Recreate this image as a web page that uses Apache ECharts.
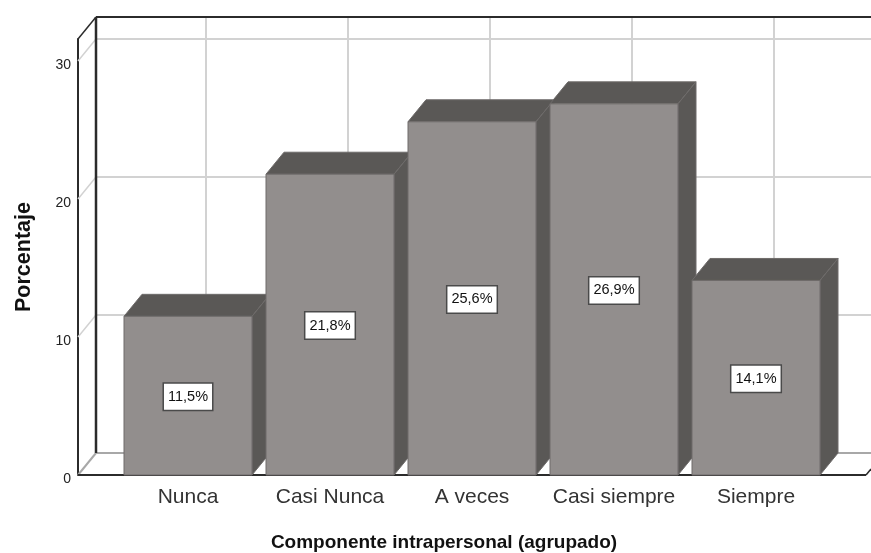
<!DOCTYPE html>
<html>
<head>
<meta charset="utf-8">
<style>html,body{margin:0;padding:0;background:#fff}#c{width:871px;height:553px}</style>
<script src="https://cdn.jsdelivr.net/npm/echarts@6/dist/echarts.min.js"></script>
</head>
<body>
<div id="c"></div>
<script>
const categories = ['Nunca', 'Casi Nunca', 'A veces', 'Casi siempre', 'Siempre'];
const percentages = [11.5, 21.8, 25.6, 26.9, 14.1];
const yTicks = [0, 10, 20, 30];
const yMax = 31.6;

// Oblique projection used for the pseudo-3D box
const DEPTH_X = 18;
const DEPTH_Y = 22;
const GRID = { left: 117, right: 44, top: 39, bottom: 78 };
const BAND_FILL = 128 / 142;
const AXIS_OFFSET = 39;
const FRONT_RIGHT = 866;
const CANVAS_RIGHT = 871;

const COL_FRONT = '#928e8d', COL_SHADE = '#5a5856', COL_EDGE = '#6e6b6a';
const COL_GRID = '#d2d2d2', COL_FRAME = '#2b2b2b', COL_FLOOR = '#a8a8a8';
const FONT = '"Liberation Sans", Arial, sans-serif';

function seg(x1, y1, x2, y2, stroke, lineWidth) {
  return { type: 'line', shape: { x1, y1, x2, y2 }, style: { stroke, lineWidth, fill: null }, silent: true };
}

// Back wall, side wall and floor of the box, behind the bars
function renderWalls(params, api) {
  const x0 = GRID.left - AXIS_OFFSET;
  const backX = x0 + DEPTH_X;
  const yBase = api.coord([0, 0])[1];
  const yTop = api.coord([0, yMax])[1];
  const children = [];
  categories.forEach((c, i) => {
    const x = api.coord([i, 0])[0] + DEPTH_X;
    children.push(seg(x, yTop - DEPTH_Y, x, yBase - DEPTH_Y, COL_GRID, 2));
  });
  yTicks.forEach(v => {
    const y = api.coord([0, v])[1];
    if (v > 0) {
      children.push(seg(backX, y - DEPTH_Y, CANVAS_RIGHT, y - DEPTH_Y, COL_GRID, 2));
      children.push(seg(x0, y, backX, y - DEPTH_Y, COL_GRID, 1.5));
    }
  });
  children.push(seg(backX, yBase - DEPTH_Y, CANVAS_RIGHT, yBase - DEPTH_Y, COL_FLOOR, 2));
  children.push(seg(x0, yBase, backX, yBase - DEPTH_Y, COL_FLOOR, 2));
  children.push(seg(backX, yTop - DEPTH_Y, backX, yBase - DEPTH_Y, COL_FRAME, 2.5));
  children.push(seg(backX, yTop - DEPTH_Y, CANVAS_RIGHT, yTop - DEPTH_Y, COL_FRAME, 2));
  children.push(seg(x0, yTop, backX, yTop - DEPTH_Y, COL_FRAME, 1.5));
  children.push(seg(x0, yBase, FRONT_RIGHT, yBase, COL_FRAME, 2));
  children.push(seg(FRONT_RIGHT, yBase, CANVAS_RIGHT, yBase - 6, COL_FRAME, 1.5));
  return { type: 'group', children };
}

function poly(points, fill) {
  return { type: 'polygon', shape: { points }, style: { fill, stroke: COL_EDGE, lineWidth: 1 } };
}

// One bar: front face, top face, right side and its value box
function renderBar(params, api) {
  const idx = api.value(0);
  const val = api.value(1);
  const [cx, yTopBar] = api.coord([idx, val]);
  const yBase = api.coord([idx, 0])[1];
  const half = api.size([1, 0])[0] * BAND_FILL / 2;
  const l = cx - half, r = cx + half;
  return {
    type: 'group',
    children: [
      poly([[l, yTopBar], [l + DEPTH_X, yTopBar - DEPTH_Y], [r + DEPTH_X, yTopBar - DEPTH_Y], [r, yTopBar]], COL_SHADE),
      poly([[r, yTopBar], [r + DEPTH_X, yTopBar - DEPTH_Y], [r + DEPTH_X, yBase - DEPTH_Y], [r, yBase]], COL_SHADE),
      poly([[l, yTopBar], [r, yTopBar], [r, yBase], [l, yBase]], COL_FRONT),
      {
        type: 'text',
        z2: 10,
        style: {
          x: cx, y: (yTopBar + yBase) / 2 + 1,
          text: val.toFixed(1).replace('.', ',') + '%',
          align: 'center', verticalAlign: 'middle',
          font: '14.5px ' + FONT,
          fill: '#111',
          backgroundColor: '#fff',
          borderColor: '#4a4a4a', borderWidth: 1.5,
          padding: [8, 4, 3, 4]
        }
      }
    ]
  };
}

const chart = echarts.init(document.getElementById('c'), null, { renderer: 'canvas' });
chart.setOption({
  animation: false,
  backgroundColor: '#fff',
  title: {
    text: 'Componente intrapersonal (agrupado)',
    left: 439, top: 528, textAlign: 'center',
    textStyle: { fontFamily: FONT, fontSize: 19, fontWeight: 'bold', color: '#111' }
  },
  grid: GRID,
  xAxis: {
    type: 'category',
    data: categories,
    axisLine: { show: false },
    axisTick: { show: false },
    splitLine: { show: false },
    axisLabel: { interval: 0, margin: 12, fontSize: 21, color: '#333', fontFamily: FONT }
  },
  yAxis: {
    type: 'value',
    min: 0,
    max: yMax,
    interval: 10,
    offset: AXIS_OFFSET,
    name: 'Porcentaje',
    nameLocation: 'middle',
    nameGap: 43,
    nameTextStyle: { fontFamily: FONT, fontSize: 21.5, fontWeight: 'bold', color: '#111' },
    axisLine: { show: true, lineStyle: { color: COL_FRAME, width: 2 } },
    axisTick: { show: false },
    splitLine: { show: false },
    axisLabel: {
      margin: 7, fontSize: 14, color: '#222', showMaxLabel: false,
      verticalAlign: 'top', lineHeight: 8,
      fontFamily: FONT
    }
  },
  series: [
    { type: 'custom', silent: true, clip: false, z: 1, renderItem: renderWalls, data: [[0, 0]] },
    {
      type: 'custom', silent: true, clip: false, z: 2,
      renderItem: renderBar,
      encode: { x: 0, y: 1 },
      data: percentages.map((v, i) => [i, v])
    }
  ]
});
</script>
</body>
</html>
